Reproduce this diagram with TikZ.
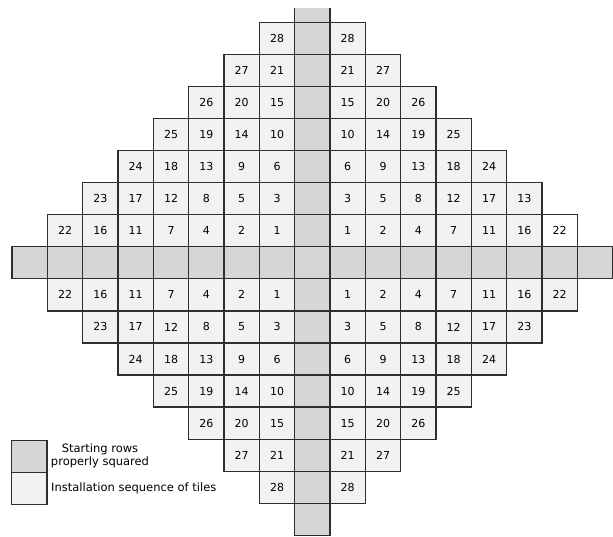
\documentclass[tikz,border=0pt]{standalone}
\usepackage{fontspec}
\newfontfamily\tilefont{DejaVu Sans}
\definecolor{edgec}{HTML}{2E2E2E}
\definecolor{startc}{HTML}{D6D6D6}
\definecolor{tilec}{HTML}{F2F2F2}
\tikzset{
  cell/.style={draw=edgec, line width=1.2pt, minimum width=35.33pt, minimum height=32.05pt,
    inner sep=0pt, font=\tilefont\fontsize{11}{13}\selectfont},
  tile/.style={cell, fill=tilec},
  startcell/.style={cell, fill=startc},
  legendtext/.style={font=\tilefont\fontsize{11.5}{14}\selectfont, inner sep=0pt},
}
\begin{document}
\begin{tikzpicture}[x=1pt,y=-1pt]
\useasboundingbox (0,0) rectangle (613,536);
\begin{scope}
\clip (-2,8) rectangle (615,540);
% starting rows
\foreach \i in {-8,...,8}{
  \node[startcell] (srow\i) at ({312.35+35.33*\i},262.85) {};
}
\foreach \j in {-8,...,-1,1,2,...,8}{
  \node[startcell] (scol\j) at (312.35,{262.85+32.05*\j}) {};
}
\end{scope}
% installation tiles
\foreach \i in {-7,...,-1,1,2,...,7}{
  \foreach \j in {-7,...,-1,1,2,...,7}{
    \pgfmathtruncatemacro\a{abs(\i)}
    \pgfmathtruncatemacro\b{abs(\j)}
    \pgfmathtruncatemacro\s{\a+\b}
    \ifnum\s<9
      \pgfmathtruncatemacro\d{\a+\b-1}
      \pgfmathtruncatemacro\n{(\d-1)*\d/2+\b}
      \def\fillc{tilec}
      \ifnum\i=6 \ifnum\j=-2 \def\n{13}\fi\fi
      \ifnum\i=7 \ifnum\j=-1 \def\fillc{white}\fi\fi
      \node[tile, fill=\fillc] (t\i_\j) at ({312.35+35.33*\i},{262.85+32.05*\j}) {\n};
    \fi
  }
}
% legend
\node[startcell] (lstart) at (29.35,456.2) {};
\node[tile] (ltile) at (29.35,488.25) {};
\node[legendtext, align=center] (lstarttext) at (100,456) {Starting rows\\[-1.5pt]properly squared};
\node[legendtext, anchor=west] (ltiletext) at (51,488.5) {Installation sequence of tiles};
\end{tikzpicture}
\end{document}
